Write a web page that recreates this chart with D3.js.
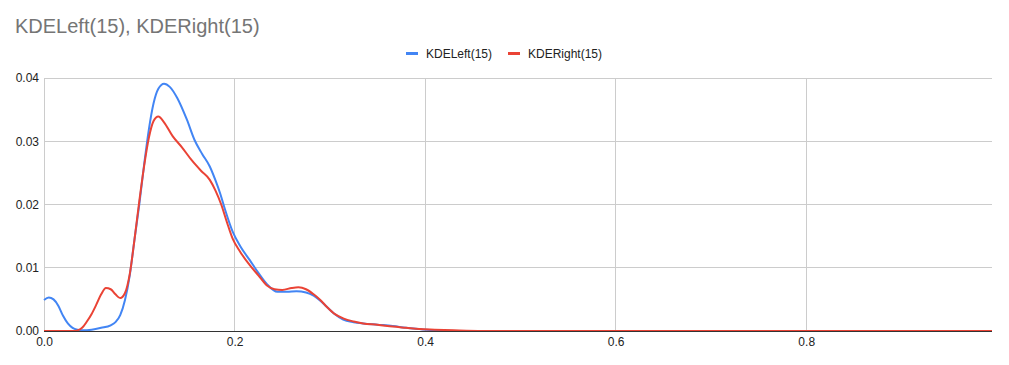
<!DOCTYPE html>
<html><head><meta charset="utf-8">
<script src="https://cdn.jsdelivr.net/npm/d3@7"></script>
<style>body{margin:0;background:#fff;font-family:Arial,"Liberation Sans",sans-serif;}</style>
</head><body>
<svg id="c" width="1009" height="365"></svg>
<script>
const title = "KDELeft(15), KDERight(15)";
const seriesNames = ["KDELeft(15)", "KDERight(15)"];
const seriesColors = ["#4285F4", "#EA4335"];
const xTicks = [0.0, 0.2, 0.4, 0.6, 0.8];
const yTicks = [0.00, 0.01, 0.02, 0.03, 0.04];

const leftX = [0.000,0.005,0.010,0.015,0.020,0.025,0.030,0.035,0.040,0.050,0.060,0.070,0.075,0.080,0.085,0.090,0.095,0.100,0.105,0.110,0.115,0.120,0.126,0.132,0.140,0.150,0.158,0.166,0.174,0.180,0.185,0.190,0.198,0.206,0.216,0.225,0.234,0.245,0.255,0.265,0.275,0.283,0.290,0.297,0.305,0.314,0.325,0.335,0.350,0.366,0.380,0.394,0.410,0.430,0.995];
const leftY = [0.0049,0.0053,0.0050,0.0040,0.0024,0.0012,0.0005,0.0002,0.0001,0.0002,0.0005,0.0009,0.0014,0.0025,0.0049,0.0088,0.0145,0.0200,0.0262,0.0318,0.0360,0.0383,0.0391,0.0386,0.0368,0.0334,0.0302,0.0280,0.0260,0.0238,0.0217,0.0192,0.0157,0.0134,0.0112,0.0092,0.0074,0.0062,0.0062,0.0063,0.0061,0.0056,0.0048,0.0038,0.0027,0.0018,0.0014,0.0012,0.0010,0.0008,0.0005,0.0003,0.0001,0.0000,0.0000];

const rightX = [0.000,0.030,0.035,0.040,0.045,0.050,0.055,0.060,0.065,0.070,0.075,0.080,0.085,0.090,0.095,0.100,0.105,0.110,0.115,0.120,0.126,0.135,0.145,0.155,0.165,0.174,0.180,0.186,0.192,0.198,0.206,0.216,0.225,0.234,0.242,0.250,0.260,0.267,0.275,0.283,0.290,0.297,0.305,0.314,0.325,0.335,0.350,0.366,0.380,0.394,0.410,0.430,0.460,0.995];
const rightY = [0.0000,0.0000,0.0001,0.0005,0.0015,0.0027,0.0042,0.0058,0.0068,0.0066,0.0058,0.0052,0.0060,0.0090,0.0145,0.0205,0.0260,0.0305,0.0332,0.0339,0.0330,0.0308,0.0290,0.0270,0.0253,0.0239,0.0222,0.0200,0.0172,0.0146,0.0125,0.0104,0.0088,0.0072,0.0066,0.0065,0.0068,0.0069,0.0066,0.0058,0.0049,0.0038,0.0027,0.0020,0.0015,0.0012,0.0010,0.0007,0.0005,0.0003,0.0002,0.0001,0.0000,0.0000];

const svg = d3.select("#c");
const L = 44, R = 992, T = 78, B = 331;
const x = d3.scaleLinear().domain([0, 0.995]).range([L, R]);
const y = d3.scaleLinear().domain([0, 0.04]).range([B, T]);

svg.append("text").attr("x", 15).attr("y", 33).attr("font-size", 20).attr("fill", "#757575").text(title);

// grid
svg.append("g").selectAll("line").data(yTicks.slice(1)).join("line")
  .attr("x1", L).attr("x2", R).attr("y1", d => y(d)).attr("y2", d => y(d))
  .attr("stroke", "#cccccc").attr("stroke-width", 1).attr("shape-rendering", "crispEdges");
svg.append("g").selectAll("line").data(xTicks).join("line")
  .attr("x1", d => x(d)).attr("x2", d => x(d)).attr("y1", T).attr("y2", B)
  .attr("stroke", "#cccccc").attr("stroke-width", 1).attr("shape-rendering", "crispEdges");

// axes labels
const yAxis = d3.axisLeft(y).tickValues(yTicks).tickFormat(d3.format(".2f")).tickSize(0).tickPadding(5);
const gy = svg.append("g").attr("transform", `translate(${L},0)`).call(yAxis);
gy.select(".domain").remove();
gy.selectAll("text").attr("font-size", 12).attr("fill", "#222").attr("font-family", "Arial,'Liberation Sans',sans-serif");

const xAxis = d3.axisBottom(x).tickValues(xTicks).tickFormat(d3.format(".1f")).tickSize(0).tickPadding(6);
const gx = svg.append("g").attr("transform", `translate(0,${B})`).call(xAxis);
gx.select(".domain").remove();
gx.selectAll("text").attr("font-size", 12).attr("fill", "#222").attr("font-family", "Arial,'Liberation Sans',sans-serif");

const line = d3.line().x(d => x(d[0])).y(d => y(d[1])).curve(d3.curveMonotoneX);
const data = [d3.zip(leftX, leftY), d3.zip(rightX, rightY)];
data.forEach((d, i) => {
  svg.append("path").datum(d).attr("d", line).attr("fill", "none")
    .attr("stroke", seriesColors[i]).attr("stroke-width", 2).attr("stroke-linejoin", "round");
});

svg.append("line").attr("x1", L).attr("x2", R).attr("y1", B).attr("y2", B)
  .attr("stroke", "#333").attr("stroke-width", 1).attr("shape-rendering", "crispEdges");

// legend
const legX = [406, 508];
seriesNames.forEach((n, i) => {
  svg.append("rect").attr("x", legX[i]).attr("y", 52).attr("width", 12).attr("height", 3).attr("fill", seriesColors[i]);
  svg.append("text").attr("x", legX[i] + 20).attr("y", 58).attr("font-size", 12).attr("fill", "#222").text(n);
});
</script>
</body></html>
